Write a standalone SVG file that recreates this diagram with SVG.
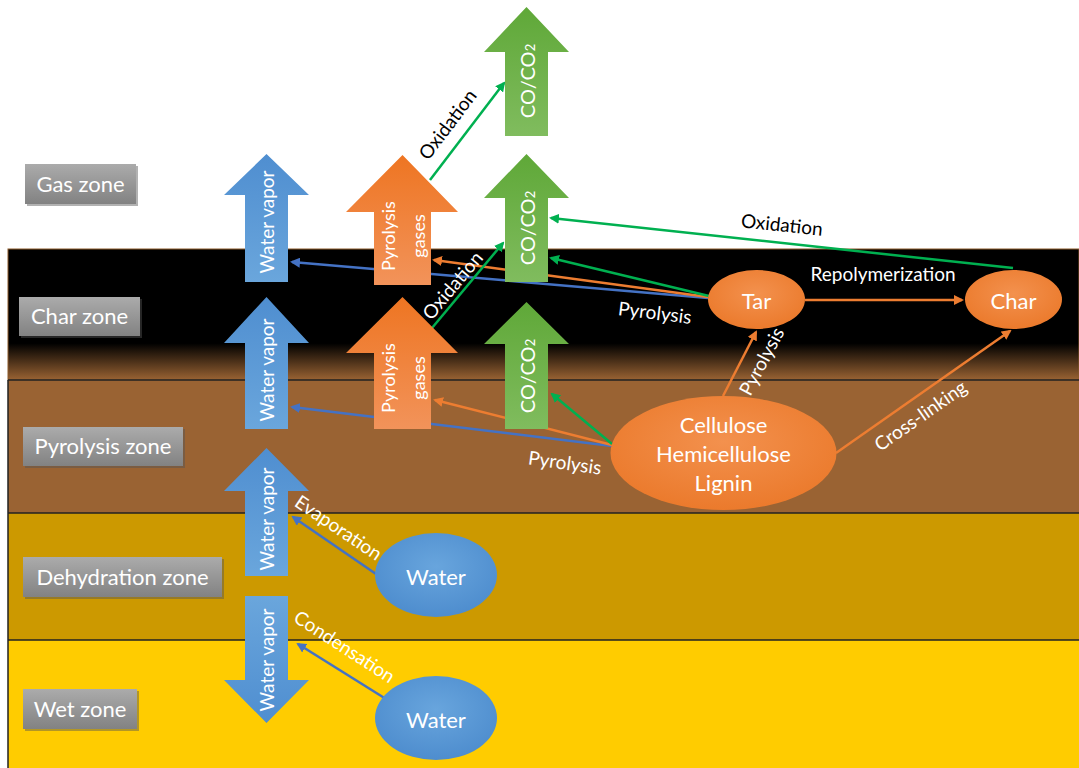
<svg xmlns="http://www.w3.org/2000/svg" width="1079" height="768" viewBox="0 0 1079 768">
<defs>
<linearGradient id="charG" x1="0" y1="0" x2="0" y2="1">
<stop offset="0" stop-color="#000"/><stop offset="0.72" stop-color="#000"/><stop offset="1" stop-color="#9A6333"/>
</linearGradient>
<linearGradient id="greyG" x1="0" y1="0" x2="0" y2="1">
<stop offset="0" stop-color="#ABABAB"/><stop offset="1" stop-color="#828282"/>
</linearGradient>
<linearGradient id="blueG" x1="0" y1="0" x2="0" y2="1">
<stop offset="0" stop-color="#4F8ED0"/><stop offset="1" stop-color="#6AA6DC"/>
</linearGradient>
<linearGradient id="blueD" x1="0" y1="0" x2="0" y2="1">
<stop offset="0" stop-color="#6AA6DC"/><stop offset="1" stop-color="#4F8ED0"/>
</linearGradient>
<linearGradient id="orG" x1="0" y1="0" x2="0" y2="1">
<stop offset="0" stop-color="#EE7522"/><stop offset="1" stop-color="#F2935A"/>
</linearGradient>
<linearGradient id="grG" x1="0" y1="0" x2="0" y2="1">
<stop offset="0" stop-color="#5FA838"/><stop offset="1" stop-color="#80BC5E"/>
</linearGradient>
<radialGradient id="ellO" cx="0.5" cy="0.4" r="0.6">
<stop offset="0" stop-color="#F3914E"/><stop offset="1" stop-color="#EB7A2C"/>
</radialGradient>
<radialGradient id="ellB" cx="0.5" cy="0.4" r="0.6">
<stop offset="0" stop-color="#68A5DD"/><stop offset="1" stop-color="#4E8DCE"/>
</radialGradient>
<marker id="mB" viewBox="0 0 10 10" refX="8" refY="5" markerWidth="4" markerHeight="4" orient="auto"><path d="M0,0 L10,5 L0,10 z" fill="#4472C4"/></marker>
<marker id="mO" viewBox="0 0 10 10" refX="8" refY="5" markerWidth="4" markerHeight="4" orient="auto"><path d="M0,0 L10,5 L0,10 z" fill="#ED7D31"/></marker>
<marker id="mG" viewBox="0 0 10 10" refX="8" refY="5" markerWidth="4" markerHeight="4" orient="auto"><path d="M0,0 L10,5 L0,10 z" fill="#00B050"/></marker>
<style>
text{font-family:Lato,"Open Sans","Liberation Sans",sans-serif;}
.zl{fill:url(#greyG);}
.zs{fill:#555;opacity:0.45;}
.zt{fill:#fff;font-size:22px;}
.at{fill:#fff;font-size:19px;text-anchor:middle;dominant-baseline:central;}
.ap{fill:#fff;font-size:18px;text-anchor:middle;dominant-baseline:central;}
.ac{fill:#fff;font-size:20px;text-anchor:middle;dominant-baseline:central;}
.et{fill:#fff;font-size:22px;text-anchor:middle;dominant-baseline:central;}
.lw{fill:#fff;font-size:19px;text-anchor:middle;dominant-baseline:central;}
.lk{fill:#000;font-size:19px;text-anchor:middle;dominant-baseline:central;}
.cb{stroke:#4472C4;stroke-width:2.5;fill:none;marker-end:url(#mB);}
.co{stroke:#ED7D31;stroke-width:2.5;fill:none;marker-end:url(#mO);}
.cg{stroke:#00B050;stroke-width:2.5;fill:none;marker-end:url(#mG);}
.sub{font-size:13px;}
</style>
</defs>
<rect width="1079" height="768" fill="#fff"/>
<g id="zones">
<rect x="8" y="249" width="1071" height="131" fill="url(#charG)" stroke="#8B5A2B" stroke-width="1"/>
<rect x="8" y="380" width="1071" height="133" fill="#9A6333"/>
<rect x="8" y="513" width="1071" height="127" fill="#CC9900"/>
<rect x="8" y="640" width="1071" height="128" fill="#FFCC00"/>
<path d="M8,380 H1079 M8,513 H1079 M8,640 H1079 M8,380 V768" stroke="#222" stroke-width="1.5" fill="none"/>
</g>
<g id="zone-labels">
<g id="gas-zone"><rect class="zs" x="27" y="166" width="111" height="40"/><rect class="zl" x="25" y="164" width="111" height="40"/><text class="zt" x="80.5" y="192" text-anchor="middle">Gas zone</text></g>
<g id="char-zone"><rect class="zs" x="21" y="299" width="121" height="39"/><rect class="zl" x="19" y="297" width="121" height="39"/><text class="zt" x="79.5" y="324" text-anchor="middle">Char zone</text></g>
<g id="pyrolysis-zone"><rect class="zs" x="25" y="429" width="160" height="39"/><rect class="zl" x="23" y="427" width="160" height="39"/><text class="zt" x="103" y="454" text-anchor="middle">Pyrolysis zone</text></g>
<g id="dehydration-zone"><rect class="zs" x="25" y="559" width="199" height="40"/><rect class="zl" x="23" y="557" width="199" height="40"/><text class="zt" x="122.5" y="585" text-anchor="middle">Dehydration zone</text></g>
<g id="wet-zone"><rect class="zs" x="25" y="691" width="114" height="40"/><rect class="zl" x="23" y="689" width="114" height="40"/><text class="zt" x="80" y="717" text-anchor="middle">Wet zone</text></g>
</g>
<g id="connectors">
<line class="cb" x1="708" y1="298" x2="292" y2="262"/>
<line class="co" x1="708" y1="297" x2="434" y2="260"/>
<line class="cg" x1="709" y1="296" x2="551" y2="258"/>
<line class="cg" x1="1013" y1="268" x2="551" y2="218"/>
<line class="cg" x1="430" y1="180" x2="504" y2="83"/>
<line class="cg" x1="432" y1="328" x2="503" y2="243"/>
<line class="cb" x1="612" y1="446" x2="292" y2="407"/>
<line class="co" x1="612" y1="445" x2="435" y2="400"/>
<line class="cg" x1="612" y1="444" x2="552" y2="394"/>
<line class="co" x1="723" y1="396" x2="756" y2="332"/>
<line class="co" x1="805" y1="300" x2="962" y2="300"/>
<line class="co" x1="836" y1="453" x2="1010" y2="331"/>
<line class="cb" x1="376" y1="574" x2="293" y2="517"/>
<line class="cb" x1="386" y1="699" x2="298" y2="644"/>
</g>
<g id="connector-labels">
<text class="lk" transform="translate(447,124) rotate(-53)">Oxidation</text>
<text class="lw" transform="translate(452,285) rotate(-50)">Oxidation</text>
<text class="lk" transform="translate(782,224) rotate(6)">Oxidation</text>
<text class="lw" transform="translate(655,312) rotate(7)">Pyrolysis</text>
<text class="lw" transform="translate(565,462) rotate(8)">Pyrolysis</text>
<text class="lw" transform="translate(761,361) rotate(-62)">Pyrolysis</text>
<text class="lw" x="883" y="273">Repolymerization</text>
<text class="lw" transform="translate(920,415) rotate(-35)">Cross-linking</text>
<text class="lw" transform="translate(339,527) rotate(34)">Evaporation</text>
<text class="lw" transform="translate(345,646) rotate(33)">Condensation</text>
</g>
<g id="water-vapor-1"><polygon fill="url(#blueG)" points="245,282 288,282 288,195 309,195 266.5,154 224,195 245,195"/><text class="at" transform="translate(266.5,222) rotate(-90)">Water vapor</text></g>
<g id="water-vapor-2"><polygon fill="url(#blueG)" points="245,429 288,429 288,343 309,343 266.5,297 224,343 245,343"/><text class="at" transform="translate(266.5,370) rotate(-90)">Water vapor</text></g>
<g id="water-vapor-3"><polygon fill="url(#blueG)" points="245,576 288,576 288,491 309,491 266.5,448 224,491 245,491"/><text class="at" transform="translate(266.5,519) rotate(-90)">Water vapor</text></g>
<g id="water-vapor-4"><polygon fill="url(#blueD)" points="245,596 288,596 288,680 309,680 266.5,723 224,680 245,680"/><text class="at" transform="translate(266.5,660) rotate(-90)">Water vapor</text></g>
<g id="pyrolysis-gases-1"><polygon fill="url(#orG)" points="374,285 431,285 431,212 458,212 402.5,155 346,212 374,212"/><text class="ap" transform="translate(402.5,236) rotate(-90)"><tspan x="0" y="-15">Pyrolysis</tspan><tspan x="0" y="15">gases</tspan></text></g>
<g id="pyrolysis-gases-2"><polygon fill="url(#orG)" points="374,429 431,429 431,353 458,353 402.5,297 346,353 374,353"/><text class="ap" transform="translate(402.5,378) rotate(-90)"><tspan x="0" y="-15">Pyrolysis</tspan><tspan x="0" y="15">gases</tspan></text></g>
<g id="co-co2-1"><polygon fill="url(#grG)" points="505,136 548,136 548,52 569,52 526.5,7 484,52 505,52"/><text class="ac" transform="translate(526.5,81) rotate(-90)">CO/CO<tspan class="sub" dy="3">2</tspan></text></g>
<g id="co-co2-2"><polygon fill="url(#grG)" points="505,282 548,282 548,198 569,198 526.5,154 484,198 505,198"/><text class="ac" transform="translate(526.5,228) rotate(-90)">CO/CO<tspan class="sub" dy="3">2</tspan></text></g>
<g id="co-co2-3"><polygon fill="url(#grG)" points="505,429 548,429 548,344 569,344 526.5,302 484,344 505,344"/><text class="ac" transform="translate(526.5,376) rotate(-90)">CO/CO<tspan class="sub" dy="3">2</tspan></text></g>
<g id="tar"><ellipse cx="756.5" cy="299.5" rx="48.5" ry="29.5" fill="url(#ellO)"/><text class="et" x="756.5" y="300">Tar</text></g>
<g id="char"><ellipse cx="1013.5" cy="299.5" rx="48.5" ry="29.5" fill="url(#ellO)"/><text class="et" x="1013.5" y="300">Char</text></g>
<g id="biomass"><ellipse cx="723.5" cy="453" rx="113" ry="57" fill="url(#ellO)"/><text class="et" x="723.5" y="424">Cellulose</text><text class="et" x="723.5" y="453">Hemicellulose</text><text class="et" x="723.5" y="482">Lignin</text></g>
<g id="water-1"><ellipse cx="436" cy="575" rx="61" ry="42" fill="url(#ellB)"/><text class="et" x="436" y="576">Water</text></g>
<g id="water-2"><ellipse cx="436" cy="718" rx="61" ry="42" fill="url(#ellB)"/><text class="et" x="436" y="719">Water</text></g>
</svg>
